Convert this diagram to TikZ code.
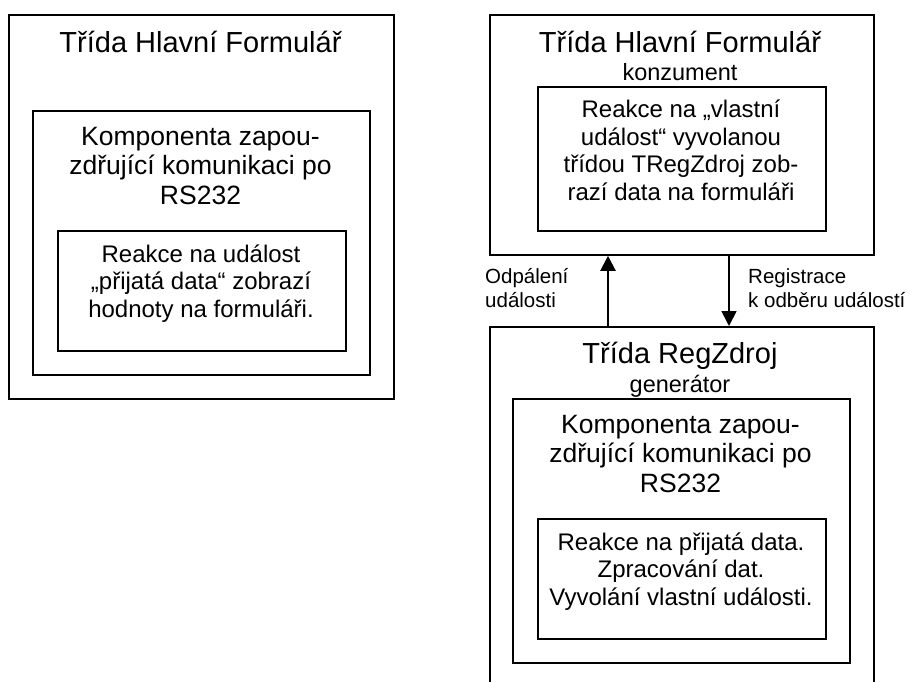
\documentclass[tikz,border=0pt]{standalone}
\usepackage{fontspec}
\setmainfont{Liberation Sans}
\usetikzlibrary{arrows.meta}

% multi-line nodes are placed by the baseline of their last line
\tikzset{
  frame/.style={draw, line width=1.8pt, inner sep=0pt, anchor=north west},
  title/.style={anchor=base, inner sep=0pt, font=\fontsize{29}{33}\selectfont},
  subtitle/.style={anchor=base, inner sep=0pt, font=\fontsize{23.5}{27}\selectfont},
  midtext/.style={anchor=base, inner sep=0pt, align=center, font=\fontsize{26.5}{29.5}\selectfont},
  innertext/.style={anchor=base, inner sep=0pt, align=center, font=\fontsize{24}{27.5}\selectfont},
  label/.style={anchor=base west, inner sep=0pt, align=left, font=\fontsize{20.5}{24}\selectfont},
  flow/.style={line width=2.2pt, -{Triangle[length=15pt,width=15pt]}}
}

\begin{document}
\begin{tikzpicture}[x=1pt, y=-1pt]
  \clip (0,0) rectangle (913,681);
  \fill[white] (0,0) rectangle (913,681);

  % left: main form with embedded RS232 component
  \node[frame, minimum width=385pt, minimum height=384pt] (lout) at (8,14) {};
  \node[frame, minimum width=337pt, minimum height=264pt] (lmid) at (32,110) {};
  \node[frame, minimum width=288pt, minimum height=120pt] (lin) at (57,230) {};
  \node[title] (ltitle) at (200.5,52) {Třída Hlavní Formulář};
  \node[midtext] (lmidtext) at (200.5,204) {Komponenta zapou-\\zdřující komunikaci po\\RS232};
  \node[innertext] (lintext) at (201,317) {Reakce na událost\\„přijatá data“ zobrazí\\hodnoty na formuláři.};

  % right top: consumer
  \node[frame, minimum width=384pt, minimum height=240pt] (rtop) at (489,14) {};
  \node[frame, minimum width=288pt, minimum height=144pt] (rtopin) at (537,86) {};
  \node[title] (rtitle) at (680,52) {Třída Hlavní Formulář};
  \node[subtitle] (rsub) at (680,80) {konzument};
  \node[innertext] (rtoptext) at (681,200) {Reakce na „vlastní\\událost“ vyvolanou\\třídou TRegZdroj zob-\\razí data na formuláři};

  % right bottom: generator (runs past the lower edge)
  \node[frame, minimum width=384pt, minimum height=400pt] (rbot) at (489,326) {};
  \node[frame, minimum width=337pt, minimum height=264pt] (rbotmid) at (512,398) {};
  \node[frame, minimum width=288pt, minimum height=120pt] (rbotin) at (537,518) {};
  \node[title] (gtitle) at (680,363) {Třída RegZdroj};
  \node[subtitle] (gsub) at (680,392) {generátor};
  \node[midtext] (gmidtext) at (680.5,492) {Komponenta zapou-\\zdřující komunikaci po\\RS232};
  \node[innertext] (gintext) at (681,605) {Reakce na přijatá data.\\Zpracování dat.\\Vyvolání vlastní události.};

  % event connectors
  \coordinate (upx) at (608,0);
  \coordinate (downx) at (729,0);
  \draw[flow] (rbot.north -| upx) -- (rtop.south -| upx);
  \draw[flow, line width=1.8pt] (rtop.south -| downx) -- (rbot.north -| downx);
  \node[label] (fire) at (485,307) {Odpálení\\události};
  \node[label] (reg) at (748,307) {Registrace\\k odběru událostí};
\end{tikzpicture}
\end{document}
